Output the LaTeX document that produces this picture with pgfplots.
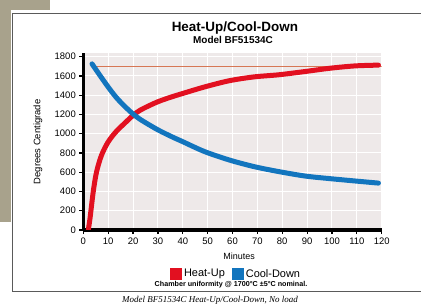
\documentclass[border=0pt]{standalone}
\usepackage{pgfplots}
\pgfplotsset{compat=1.18}
\usepackage{fontspec}
\setmainfont{Liberation Sans}
\newfontfamily\serifcap{Liberation Serif}
\definecolor{heatred}{RGB}{226,16,32}
\definecolor{coolblue}{RGB}{18,117,190}
\definecolor{refline}{RGB}{214,118,84}
\definecolor{gridbg}{RGB}{238,233,233}
\definecolor{tanbg}{RGB}{168,162,140}
\definecolor{cardline}{RGB}{90,90,90}
\begin{document}
\begin{tikzpicture}[x=1bp,y=1bp]
\useasboundingbox (0,0) rectangle (421,306);
\fill[white] (0,0) rectangle (421,306);
\fill[tanbg] (0,296) rectangle (50,306);
\fill[tanbg] (0,84) rectangle (11,306);
\draw[cardline, line width=0.8bp] (421,293) -- (12,293) -- (12,15) -- (421,15);
\begin{axis}[
  at={(83.3bp,76bp)}, anchor=south west,
  scale only axis, width=298.4bp, height=177.2bp,
  xmin=0, xmax=120, ymin=0, ymax=1840,
  xtick={0,10,...,120}, ytick={0,200,...,1800},
  axis background/.style={fill=gridbg},
  grid=major, major grid style={white, line width=1bp},
  axis x line*=bottom, axis y line*=left,
  axis line style={black, line width=3bp, -},
  tick align=outside, major tick length=4bp,
  tick style={black, line width=1.2bp},
  ticklabel style={font=\fontsize{9.5}{10}\selectfont},
  /pgf/number format/assume math mode=true,
  /pgf/number format/1000 sep={},
  title={Heat-Up/Cool-Down},
  title style={at={(0.508,1.108)}, anchor=center, font=\bfseries\fontsize{13.5}{15}\selectfont},
  xlabel={Minutes},
  xlabel style={at={(0.522,-0.147)}, anchor=center, font=\fontsize{9}{10}\selectfont},
  ylabel={Degrees Centigrade},
  ylabel style={at={(-0.152,0.497)}, anchor=center, font=\fontsize{9.5}{11}\selectfont},
  legend columns=2,
  legend style={at={(0.512,-0.248)}, anchor=center, draw=none, fill=none,
    font=\fontsize{11}{12}\selectfont,
    /tikz/every even column/.append style={column sep=5bp}},
  legend image code/.code={\fill[#1] (0bp,-3.5bp) rectangle (7bp,3.5bp);},
]
\addplot[refline, line width=1bp, forget plot] coordinates {(4.5,1700) (120,1700)};
\addplot[heatred, line width=5bp, line cap=round, smooth, tension=0.5] coordinates {
(2,0) (2.7,121) (4,398) (5.3,600) (7.3,775) (10,915) (13.3,1025) (16.7,1110)
(20,1190) (23.3,1250) (30,1332) (36.7,1392) (40,1418) (48.7,1485) (58.7,1550)
(68.7,1590) (78.7,1612) (89.3,1646) (99.3,1680) (109.3,1704) (118.7,1712)};
\addlegendentry{Heat-Up}
\addplot[coolblue, line width=5bp, line cap=round, smooth, tension=0.5] coordinates {
(3.5,1725) (6.7,1605) (10,1485) (13.3,1375) (16.7,1283) (20,1205) (23.3,1142)
(30,1040) (36.7,955) (40,917) (48.7,815) (58.7,727) (68.7,658) (78.7,606)
(89.3,560) (99.3,533) (109.3,509) (118.7,487)};
\addlegendentry{Cool-Down}
\end{axis}
\node[font=\bfseries\fontsize{10}{11}\selectfont] at (233,266) {Model BF51534C};
\node[font=\bfseries\fontsize{7.2}{8}\selectfont] at (231,21) {Chamber uniformity @ 1700°C ±5°C nominal.};
\node[font=\serifcap\itshape\fontsize{9}{10}\selectfont] at (210,6) {Model BF51534C Heat-Up/Cool-Down, No load};
\end{tikzpicture}
\end{document}
